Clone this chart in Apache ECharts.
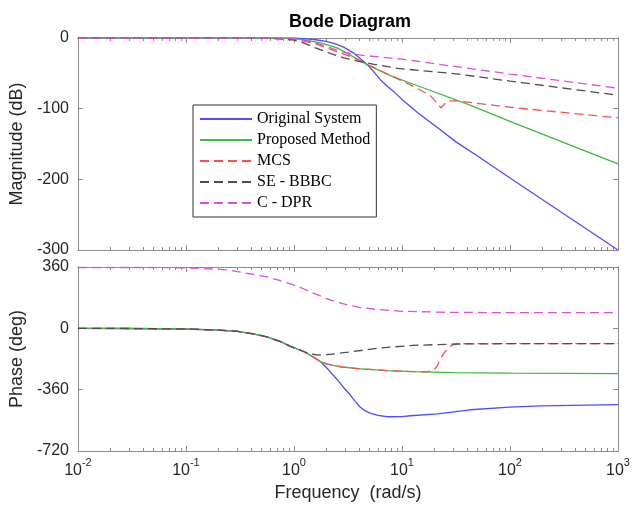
<!DOCTYPE html>
<html>
<head>
<meta charset="utf-8">
<script src="https://cdn.jsdelivr.net/npm/echarts@6/dist/echarts.min.js"></script>
<style>html,body{margin:0;padding:0;background:#fff;}#c{width:633px;height:511px;}</style>
</head>
<body>
<div id="c"></div>
<script>
// ---------- data (frequency in rad/s) ----------
const seriesNames = ['Original System', 'Proposed Method', 'MCS', 'SE - BBBC', 'C - DPR'];
const freqMajorTicks = [0.01, 0.1, 1, 10, 100, 1000];
const magTicks = [0, -100, -200, -300];
const phaseTicks = [360, 0, -360, -720];

// Magnitude (dB)
const magOrigF = [0.01, 0.1, 1, 1.23, 1.6, 2.04, 2.5, 2.88, 3.55, 4.1, 4.79, 5.5, 6.31, 7.4, 8.7, 10.2, 14.1, 21.4, 31.6, 50, 100, 316, 1000];
const magOrig  = [0, 0, 0, -1, -2.5, -5, -9, -13, -21, -29, -38, -48, -59, -69, -78, -88, -106, -127, -147, -167, -198, -249, -300];
const magPropF = [0.01, 0.3, 0.7, 1, 1.3, 1.76, 2.51, 3.39, 4.79, 8, 14.8, 42.7, 100, 1000];
const magProp  = [0, 0, -0.3, -1, -3, -7, -14, -25, -38, -54, -69, -95, -118, -178];
const magMcsF  = [0.01, 0.3, 0.7, 1, 1.3, 1.58, 2.0, 3.47, 5.5, 8.1, 12.6, 18.2, 20.5, 22.9, 26.3, 32.4, 100, 1000];
const magMcs   = [0, 0, -0.5, -2, -5, -8, -14, -27, -42, -54, -68, -81, -90, -99, -89, -89, -98, -113];
const magSeF   = [0.01, 0.3, 0.63, 1, 1.23, 1.58, 2.2, 2.88, 4.0, 5.37, 9.1, 33, 100, 1000];
const magSe    = [0, 0, -0.5, -3, -7, -14, -22, -28, -33, -37, -43, -51, -61, -81];
const magDprF  = [0.01, 0.5, 0.75, 1, 1.25, 1.51, 2.0, 2.4, 2.88, 4.0, 10, 100, 1000];
const magDpr   = [0, 0, -0.3, -1, -3, -6, -12, -16, -20, -24, -30, -51, -71];

// Phase (deg)
const phOrigF = [0.01, 0.03, 0.1, 0.2, 0.3, 0.42, 0.56, 0.75, 0.93, 1.23, 1.48, 1.76, 2.1, 2.51, 2.9, 3.31, 3.7, 4.07, 4.5, 5.0, 6.0, 7.3, 10, 12, 21.4, 42.7, 100, 190, 1000];
const phOrig  = [0, -1, -4, -10, -18, -32, -50, -78, -106, -136, -165, -195, -245, -300, -350, -390, -430, -460, -482, -496, -511, -519, -518, -513, -502, -478, -462, -455, -448];
const phPropF = [0.01, 0.03, 0.1, 0.2, 0.3, 0.42, 0.56, 0.75, 0.93, 1.23, 1.48, 1.76, 2.0, 2.3, 2.8, 3.89, 7.3, 12.7, 29.9, 100, 1000];
const phProp  = [0, -1, -4, -10, -18, -32, -50, -78, -106, -136, -165, -195, -208, -218, -227, -236, -248, -254, -260, -263, -266];
const phMcsF  = [0.01, 0.03, 0.1, 0.2, 0.3, 0.42, 0.56, 0.75, 0.93, 1.23, 1.48, 1.76, 2.0, 2.3, 2.8, 3.89, 7.3, 12.7, 17, 19.5, 21, 22.6, 24, 26.9, 29.5, 32.4, 40, 100, 1000];
const phMcs   = [0, -1, -4, -10, -18, -32, -50, -78, -106, -136, -165, -195, -208, -218, -227, -236, -248, -254, -256, -245, -225, -183, -153, -112, -97, -91, -90, -90, -90];
const phSeF   = [0.01, 0.03, 0.1, 0.2, 0.3, 0.42, 0.56, 0.75, 0.93, 1.23, 1.41, 1.6, 1.78, 2.24, 3.16, 6.3, 12.6, 31.6, 100, 1000];
const phSe    = [0, -1, -4, -10, -18, -32, -50, -78, -106, -136, -150, -155, -156, -152, -140, -115, -100, -92, -90, -90];
const phDprF  = [0.01, 0.05, 0.1, 0.18, 0.25, 0.4, 0.56, 0.72, 1.07, 1.51, 2.19, 3.16, 4.2, 5.6, 10, 26.3, 100, 1000];
const phDpr   = [357, 357, 355, 348, 342, 319, 302, 283, 248, 207, 165, 136, 122, 112, 100, 94, 92, 92];

// ---------- build ----------
const zip = (f, v) => f.map((x, i) => [x, v[i]]);
const minorTicks = [];
[0.01, 0.1, 1, 10, 100].forEach(d => { for (let m = 2; m <= 9; m++) minorTicks.push(Number((m * d).toPrecision(3))); });

const FONT = 'Liberation Sans';
const AX = '#8c8c8c';
const TXT = '#262626';
const colors = ['#4d4dff', '#3dbb3d', '#ff4d4d', '#4d4d4d', '#dd4fdd'];
const dashes = [null, null, [9, 5], [9, 5], [9, 5]];

function xAx(grid, pos, ticks, len, withLine, labels) {
  const a = {
    type: 'log', logBase: 10, min: 0.01, max: 1000, gridIndex: grid, position: pos,
    axisLine: { show: withLine, onZero: false, lineStyle: { color: AX, width: 1 } },
    axisTick: { show: true, inside: true, length: len, customValues: ticks, lineStyle: { color: AX } },
    splitLine: { show: false }, minorTick: { show: false },
    axisLabel: { show: false },
    axisPointer: { show: false }
  };
  if (labels) {
    a.axisLabel = {
      show: true, customValues: freqMajorTicks, margin: 6,
      formatter: v => '{b|10}{s|' + Math.round(Math.log10(v)) + '}',
      rich: {
        b: { fontFamily: FONT, fontSize: 16, color: TXT, lineHeight: 22, verticalAlign: 'bottom' },
        s: { fontFamily: FONT, fontSize: 11, color: TXT, lineHeight: 8, verticalAlign: 'top' }
      }
    };
    a.name = 'Frequency  (rad/s)';
    a.nameLocation = 'middle';
    a.nameGap = 33;
    a.nameTextStyle = { fontFamily: FONT, fontSize: 18, color: TXT };
  }
  return a;
}
function yAx(grid, pos, min, max, interval, labels, name) {
  const a = {
    type: 'value', gridIndex: grid, position: pos, min: min, max: max, interval: interval,
    axisLine: { show: true, onZero: false, lineStyle: { color: AX, width: 1 } },
    axisTick: { show: true, inside: true, length: 5, lineStyle: { color: AX } },
    splitLine: { show: false },
    axisLabel: { show: labels, fontFamily: FONT, fontSize: 16, color: TXT, margin: 9 }
  };
  if (name) {
    a.name = name; a.nameLocation = 'middle'; a.nameGap = 49;
    a.nameTextStyle = { fontFamily: FONT, fontSize: 18, color: TXT };
  }
  return a;
}

const xAxes = [
  xAx(0, 'bottom', freqMajorTicks, 5, true, false),
  xAx(0, 'bottom', minorTicks, 3, false, false),
  xAx(0, 'top', freqMajorTicks, 5, true, false),
  xAx(0, 'top', minorTicks, 3, false, false),
  xAx(1, 'bottom', freqMajorTicks, 5, true, true),
  xAx(1, 'bottom', minorTicks, 3, false, false),
  xAx(1, 'top', freqMajorTicks, 5, true, false),
  xAx(1, 'top', minorTicks, 3, false, false)
];
const yAxes = [
  yAx(0, 'left', -300, 0, 100, true, 'Magnitude (dB)'),
  yAx(0, 'right', -300, 0, 100, false),
  yAx(1, 'left', -720, 360, 360, true, 'Phase (deg)'),
  yAx(1, 'right', -720, 360, 360, false)
];

const magData = [zip(magOrigF, magOrig), zip(magPropF, magProp), zip(magMcsF, magMcs), zip(magSeF, magSe), zip(magDprF, magDpr)];
const phData  = [zip(phOrigF, phOrig), zip(phPropF, phProp), zip(phMcsF, phMcs), zip(phSeF, phSe), zip(phDprF, phDpr)];

const series = [];
seriesNames.forEach((n, i) => {
  const ls = { color: colors[i], width: 1.3, type: dashes[i] || 'solid' };
  series.push({ name: n, type: 'line', xAxisIndex: 0, yAxisIndex: 0, data: magData[i], showSymbol: false, symbol: 'none',
    smooth: false, lineStyle: ls, itemStyle: { color: colors[i] }, animation: false, z: 2 + i });
  series.push({ name: n, type: 'line', xAxisIndex: 4, yAxisIndex: 2, data: phData[i], showSymbol: false, symbol: 'none',
    smooth: false, lineStyle: ls, itemStyle: { color: colors[i] }, animation: false, z: 2 + i });
});

const chart = echarts.init(document.getElementById('c'), null, { renderer: 'canvas' });
chart.setOption({
  backgroundColor: '#fff',
  animation: false,
  title: { text: 'Bode Diagram', left: 345, top: 8, textAlign: 'center',
    textStyle: { fontFamily: FONT, fontSize: 18, fontWeight: 'bold', color: '#000' } },
  legend: {
    data: seriesNames, orient: 'vertical', left: 193, top: 105,
    itemWidth: 52, itemHeight: 14, itemGap: 5, padding: [6, 6, 6, 6],
    backgroundColor: '#fff', borderColor: '#333', borderWidth: 1, borderRadius: 0,
    itemStyle: { opacity: 0, borderWidth: 0 },
    textStyle: { fontFamily: 'Liberation Serif', fontSize: 16, color: '#000' },
    selectedMode: false
  },
  grid: [
    { left: 77, right: 15, top: 38, height: 212 },
    { left: 77, right: 15, top: 267, height: 184 }
  ],
  xAxis: xAxes,
  yAxis: yAxes,
  series: series
});
</script>
</body>
</html>
